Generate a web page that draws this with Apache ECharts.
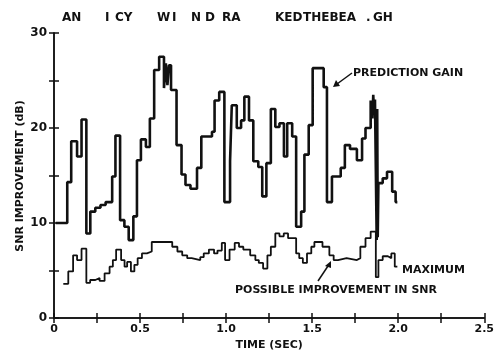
<!DOCTYPE html>
<html>
<head>
<meta charset="utf-8">
<script src="https://cdn.jsdelivr.net/npm/echarts@6/dist/echarts.min.js"></script>
<style>
  html, body { margin: 0; padding: 0; background: #fff; }
  #chart { width: 497px; height: 356px; }
</style>
</head>
<body>
<div id="chart"></div>
<script>
// prediction gain, step curve: time where value changes (sec) -> value (dB)
var gainTime = [0.01, 0.077, 0.10, 0.134, 0.16, 0.188, 0.211, 0.24, 0.27, 0.30, 0.338, 0.357, 0.384, 0.409, 0.434,
  0.461, 0.482, 0.505, 0.534, 0.557, 0.582, 0.611, 0.639, 0.650, 0.659, 0.668, 0.68, 0.712, 0.741, 0.764,
  0.793, 0.831, 0.856, 0.918, 0.933, 0.96, 0.99, 1.023, 1.033, 1.062, 1.087, 1.106, 1.133, 1.158, 1.187,
  1.21, 1.234, 1.26, 1.286, 1.31, 1.336, 1.355, 1.384, 1.407, 1.436, 1.455, 1.48, 1.503, 1.567, 1.586,
  1.615, 1.666, 1.69, 1.72, 1.76, 1.79, 1.81, 1.84, 1.85, 1.855, 1.86, 1.865, 1.875, 1.878, 1.881,
  1.885, 1.91, 1.935, 1.965, 1.985, 1.995];
var gainVal = [10.0, 14.3, 18.6, 17.0, 20.9, 8.9, 11.2, 11.6, 11.9, 12.2, 14.9, 19.2, 10.3, 9.6, 8.2,
  10.7, 16.6, 18.8, 18.0, 21.0, 26.1, 27.5, 24.2, 26.8, 24.5, 26.6, 24.0, 18.2, 15.1, 14.0,
  13.6, 15.8, 19.1, 19.6, 22.9, 23.8, 12.2, 16.5, 22.4, 20.0, 20.8, 23.3, 20.8, 16.5, 15.9,
  12.8, 16.3, 22.0, 20.1, 20.5, 17.0, 20.5, 19.1, 9.6, 11.2, 17.2, 20.3, 26.3, 24.3, 12.2,
  14.9, 15.8, 18.2, 17.8, 16.6, 18.9, 20.0, 22.9, 21.0, 23.5, 21.5, 23.0, 8.2, 22.0, 8.5,
  14.2, 14.7, 15.4, 13.3, 12.2, 12.2];

// maximum possible improvement in SNR
var maxTime = [0.054, 0.083, 0.111, 0.134, 0.16, 0.188, 0.21, 0.24, 0.265, 0.294, 0.323, 0.342, 0.361, 0.39, 0.41,
  0.425, 0.447, 0.467, 0.486, 0.511, 0.54, 0.568, 0.687, 0.717, 0.745, 0.774, 0.80, 0.85, 0.87, 0.90,
  0.93, 0.95, 0.975, 0.994, 1.02, 1.05, 1.075, 1.10, 1.14, 1.17, 1.19, 1.215, 1.24, 1.26, 1.286,
  1.31, 1.335, 1.36, 1.407, 1.425, 1.446, 1.47, 1.495, 1.513, 1.56, 1.60, 1.625, 1.65, 1.70, 1.76,
  1.78, 1.81, 1.84, 1.87, 1.885, 1.91, 1.94, 1.96, 1.98, 1.995];
var maxVal = [3.6, 4.9, 6.6, 6.1, 7.3, 3.7, 4.0, 4.2, 3.9, 4.7, 5.4, 6.1, 7.2, 6.1, 5.4,
  5.9, 4.9, 5.6, 6.3, 6.8, 7.0, 8.0, 7.5, 7.0, 6.6, 6.3, 6.1, 6.4, 6.8, 7.2,
  6.8, 7.1, 7.9, 6.1, 7.2, 7.9, 7.5, 7.2, 6.6, 6.1, 5.8, 5.2, 6.6, 7.5, 8.9,
  8.6, 8.9, 8.4, 6.8, 6.3, 5.8, 6.8, 7.5, 8.0, 7.5, 6.6, 6.1, 6.3, 6.1, 6.3,
  7.5, 8.4, 9.1, 4.3, 6.1, 6.5, 6.3, 6.8, 5.4, 5.4];

// words of the spoken sentence along the top
var wordText = ['AN', 'I', 'CY', 'W', 'I', 'N', 'D', 'RA', 'KED', 'THEBEA', '.', 'GH'];
var wordX = [62, 105, 115, 157, 172, 191, 205, 222, 275, 303, 366, 373];

var yMin = 0, yMax = 30, yStep = 5;
var xMin = 0, xMax = 2.5, xStep = 0.25;

function pairs(t, v) {
  var out = [];
  for (var i = 0; i < t.length; i++) out.push([t[i], v[i]]);
  return out;
}

var ink = '#111';
var font = 'bold 11px "DejaVu Sans", sans-serif';
var topFont = 'bold 12px "DejaVu Sans", sans-serif';

var graphics = [];
for (var i = 0; i < wordText.length; i++) {
  graphics.push({
    type: 'text', x: wordX[i], y: 18,
    style: { text: wordText[i], font: topFont, fill: ink, textVerticalAlign: 'middle' }
  });
}
graphics.push(
  // y axis title, rotated
  { type: 'text', x: 20, y: 176, rotation: Math.PI / 2,
    style: { text: 'SNR IMPROVEMENT (dB)', font: font, fill: ink, textAlign: 'center', textVerticalAlign: 'middle' } },
  { type: 'text', x: 353, y: 73, style: { text: 'PREDICTION GAIN', font: font, fill: ink, textVerticalAlign: 'middle' } },
  { type: 'line', shape: { x1: 352, y1: 73, x2: 337, y2: 84 }, style: { stroke: ink, lineWidth: 1.5 } },
  { type: 'polygon', shape: { points: [[333, 87], [336, 80], [340, 86]] }, style: { fill: ink } },
  { type: 'text', x: 402, y: 270, style: { text: 'MAXIMUM', font: font, fill: ink, textVerticalAlign: 'middle' } },
  { type: 'text', x: 235, y: 290, style: { text: 'POSSIBLE IMPROVEMENT IN SNR', font: font, fill: ink, textVerticalAlign: 'middle' } },
  { type: 'line', shape: { x1: 318, y1: 281, x2: 328, y2: 266 }, style: { stroke: ink, lineWidth: 1.5 } },
  { type: 'polygon', shape: { points: [[331, 261], [325, 266], [331, 268]] }, style: { fill: ink } }
);

var chart = echarts.init(document.getElementById('chart'));
var option = {
  animation: false,
  backgroundColor: '#fff',
  grid: { left: 54, right: 9, top: 33, bottom: 38 },
  xAxis: [{
    type: 'value', min: xMin, max: xMax, interval: xStep,
    name: 'TIME (SEC)', nameLocation: 'middle', nameGap: 22,
    nameTextStyle: { color: ink, fontWeight: 'bold', fontSize: 11, fontFamily: 'DejaVu Sans' },
    axisLine: { show: true, lineStyle: { color: ink, width: 1.5 } },
    axisTick: { show: true, inside: true, length: 5, lineStyle: { color: ink, width: 1.5 } },
    axisLabel: {
      color: ink, fontWeight: 'bold', fontSize: 11, fontFamily: 'DejaVu Sans', margin: 6,
      formatter: function (v) {
        if (Math.abs(v / 0.5 - Math.round(v / 0.5)) > 1e-6) return '';
        return v === 0 ? '0' : v.toFixed(1);
      }
    },
    splitLine: { show: false }
  }, {
    type: 'value', position: 'top', min: xMin, max: xMax, interval: xStep,
    axisLine: { show: true, lineStyle: { color: ink, width: 1.5 } },
    axisTick: { show: true, inside: true, length: 5, lineStyle: { color: ink, width: 1.5 } },
    axisLabel: { show: false },
    splitLine: { show: false }
  }],
  yAxis: [{
    type: 'value', min: yMin, max: yMax, interval: yStep,
    axisLine: { show: true, lineStyle: { color: ink, width: 1.5 } },
    axisTick: { show: true, inside: true, length: 5, lineStyle: { color: ink, width: 1.5 } },
    axisLabel: {
      color: ink, fontWeight: 'bold', fontSize: 12, fontFamily: 'DejaVu Sans', margin: 7,
      formatter: function (v) { return v % 10 === 0 ? String(v) : ''; }
    },
    splitLine: { show: false }
  }, {
    type: 'value', position: 'right', min: yMin, max: yMax, interval: yStep,
    axisLine: { show: true, lineStyle: { color: ink, width: 1.5 } },
    axisTick: { show: true, inside: true, length: 5, lineStyle: { color: ink, width: 1.5 } },
    axisLabel: { show: false },
    splitLine: { show: false }
  }],
  series: [{
    name: 'PREDICTION GAIN', type: 'line', step: 'end',
    showSymbol: false, silent: true,
    lineStyle: { color: ink, width: 2.6 },
    data: pairs(gainTime, gainVal)
  }, {
    name: 'MAXIMUM POSSIBLE IMPROVEMENT IN SNR', type: 'line', step: 'end',
    showSymbol: false, silent: true,
    lineStyle: { color: ink, width: 1.8 },
    data: pairs(maxTime, maxVal)
  }],
  graphic: graphics
};
chart.setOption(option);
</script>
</body>
</html>
